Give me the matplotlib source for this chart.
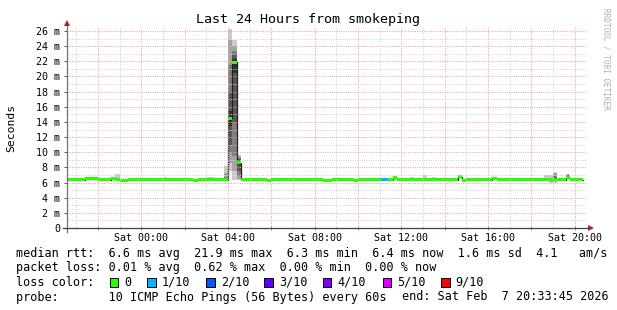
import matplotlib
matplotlib.use("Agg")
import matplotlib.pyplot as plt
from matplotlib.patches import Rectangle
from matplotlib.lines import Line2D
from matplotlib.ticker import MultipleLocator, FuncFormatter
import numpy as np

W, H, DPI = 617, 310, 100
MONO = "DejaVu Sans Mono"
plt.rcParams["font.family"] = [MONO]

# ---------------- data ----------------
view_start = 20.5625      # Fri 20:33:45 (hours since Fri 00:00)
view_end = 44.5625        # Sat 20:33:45
bin_start = 20.6          # first 12-minute consolidated bin (Fri 20:36)
bin_hours = 0.2           # 12 minutes

median_ms = [
    6.4, 6.4, 6.4, 6.4, 6.5, 6.5, 6.5, 6.4, 6.4, 6.4,
    6.5, 6.45, 6.32, 6.32, 6.4, 6.4, 6.4, 6.4, 6.4, 6.4,
    6.4, 6.4, 6.42, 6.4, 6.4, 6.4, 6.4, 6.4, 6.4, 6.3,
    6.4, 6.4, 6.35, 6.35, 6.35, 6.35, 6.35, 14.5, 21.9, 8.6,
    6.4, 6.4, 6.4, 6.4, 6.4, 6.4, 6.3, 6.4, 6.4, 6.4,
    6.4, 6.4, 6.4, 6.4, 6.4, 6.4, 6.4, 6.4, 6.4, 6.3,
    6.3, 6.4, 6.4, 6.4, 6.4, 6.4, 6.3, 6.4, 6.4, 6.4,
    6.4, 6.4, 6.45, 6.45, 6.4, 6.6, 6.4, 6.4, 6.4, 6.4,
    6.4, 6.4, 6.4, 6.4, 6.4, 6.4, 6.4, 6.4, 6.4, 6.4,
    6.75, 6.3, 6.4, 6.4, 6.4, 6.4, 6.4, 6.4, 6.55, 6.4,
    6.4, 6.4, 6.4, 6.4, 6.4, 6.4, 6.4, 6.4, 6.4, 6.4,
    6.4, 6.4, 6.4, 6.4, 6.4, 6.65, 6.4, 6.4, 6.4,
]

smoke_top = [
    6.65, 6.55, 6.55, 6.55, 6.65, 6.65, 6.65, 6.55, 6.55, 6.55,
    6.7, 7.1, 6.5, 6.5, 6.55, 6.55, 6.55, 6.55, 6.55, 6.55,
    6.55, 6.55, 6.7, 6.55, 6.55, 6.55, 6.55, 6.55, 6.55, 6.45,
    6.55, 6.55, 6.7, 6.7, 6.5, 6.5, 8.2, 26.3, 24.8, 9.6,
    6.65, 6.65, 6.65, 6.65, 6.65, 6.65, 6.45, 6.55, 6.55, 6.65,
    6.65, 6.65, 6.65, 6.55, 6.55, 6.65, 6.65, 6.65, 6.65, 6.45,
    6.45, 6.55, 6.65, 6.65, 6.65, 6.55, 6.45, 6.55, 6.55, 6.55,
    6.55, 6.55, 6.6, 6.6, 6.55, 6.75, 6.55, 6.55, 6.55, 6.75,
    6.55, 6.55, 7.0, 6.55, 6.75, 6.55, 6.55, 6.55, 6.55, 6.55,
    6.9, 6.45, 6.55, 6.55, 6.55, 6.55, 6.55, 6.55, 6.75, 6.55,
    6.65, 6.65, 6.65, 6.65, 6.65, 6.65, 6.65, 6.55, 6.55, 6.55,
    7.0, 7.0, 7.45, 6.55, 6.55, 7.15, 6.55, 6.55, 6.55,
]

smoke_bottom = [
    6.3, 6.3, 6.3, 6.3, 6.4, 6.4, 6.4, 6.3, 6.3, 6.3,
    6.4, 6.35, 6.22, 6.22, 6.3, 6.3, 6.3, 6.3, 6.3, 6.3,
    6.3, 6.3, 6.32, 6.3, 6.3, 6.3, 6.3, 6.3, 6.3, 6.2,
    6.3, 6.3, 6.25, 6.25, 6.25, 6.25, 6.2, 7.5, 6.4, 6.3,
    6.3, 6.3, 6.3, 6.3, 6.3, 6.3, 6.2, 6.3, 6.3, 6.3,
    6.3, 6.3, 6.3, 6.3, 6.3, 6.3, 6.3, 6.3, 6.3, 6.2,
    6.2, 6.3, 6.3, 6.3, 6.3, 6.3, 6.2, 6.3, 6.3, 6.3,
    6.3, 6.3, 6.35, 6.35, 6.3, 6.5, 6.3, 6.3, 6.3, 6.3,
    6.3, 6.3, 6.3, 6.3, 6.3, 6.3, 6.3, 6.3, 6.3, 6.3,
    6.65, 6.2, 6.3, 6.3, 6.3, 6.3, 6.3, 6.3, 6.45, 6.3,
    6.3, 6.3, 6.3, 6.3, 6.3, 6.3, 6.3, 6.3, 6.3, 6.3,
    6.3, 6.0, 6.0, 6.3, 6.3, 6.45, 6.3, 6.3, 6.3,
]

# inner smoke rings (ping 2..5 from each side) for the columns where they show
ring_cols = [36, 37, 38, 39, 112, 115]
ring2_lo = [6.25, 8.6, 7.5, 6.5, 6.2, 6.5]
ring2_hi = [7.2, 24.8, 24.0, 9.45, 7.2, 7.05]
ring3_lo = [6.3, 9.9, 9.5, 6.8, 6.3, 6.55]
ring3_hi = [6.7, 21.5, 23.3, 9.3, 6.9, 7.0]
ring4_lo = [6.3, 11.0, 14.0, 7.5, 6.35, 6.6]
ring4_hi = [6.5, 18.0, 22.8, 9.1, 6.7, 6.95]
ring5_lo = [6.3, 13.5, 20.5, 8.3, 6.4, 6.62]
ring5_hi = [6.45, 15.5, 22.3, 8.8, 6.5, 6.9]

loss_level = [0] * 72 + [1, 1] + [0] * 45   # index into loss colours

loss_names = ["0", "1/10", "2/10", "3/10", "4/10", "5/10", "9/10"]
loss_colors = ["#26ff00", "#00b8ff", "#0059ff", "#5e00ff", "#7e00ff", "#dd00ff", "#ff0000"]
ring_colors = ["#cacaca", "#a4a4a4", "#7e7e7e", "#585858", "#323232"]

tick_hours = [24, 28, 32, 36, 40, 44]
tick_labels = ["Sat 00:00", "Sat 04:00", "Sat 08:00", "Sat 12:00", "Sat 16:00", "Sat 20:00"]

stats_line = "median rtt:  6.6 ms avg  21.9 ms max  6.3 ms min  6.4 ms now  1.6 ms sd  4.1   am/s"
loss_line = "packet loss: 0.01 % avg  0.62 % max  0.00 % min  0.00 % now"
probe_line = "probe:       10 ICMP Echo Pings (56 Bytes) every 60s"
end_line = "end: Sat Feb  7 20:33:45 2026"

# ---------------- figure ----------------
fig = plt.figure(figsize=(W / DPI, H / DPI), dpi=DPI, facecolor="white")
L, R, T, B = 67, 587, 27, 228
ax = fig.add_axes([L / W, (H - B) / H, (R - L) / W, (B - T) / H])
ax.set_facecolor("white")
ax.set_xlim(view_start, view_end)
ax.set_ylim(0, 26.53)

n = len(median_ms)
starts = bin_start + bin_hours * np.arange(n)
med = np.array(median_ms)
top = np.array(smoke_top)
bot = np.array(smoke_bottom)

# outer smoke
ax.bar(starts, top - bot, bottom=bot, width=bin_hours, align="edge",
       color=ring_colors[0], linewidth=0, antialiased=False, zorder=1)
# inner smoke rings
rc = np.array(ring_cols)
for lo, hi, col in [(ring2_lo, ring2_hi, ring_colors[1]), (ring3_lo, ring3_hi, ring_colors[2]),
                    (ring4_lo, ring4_hi, ring_colors[3]), (ring5_lo, ring5_hi, ring_colors[4])]:
    lo = np.array(lo); hi = np.array(hi)
    ax.bar(starts[rc], hi - lo, bottom=lo, width=bin_hours, align="edge",
           color=col, linewidth=0, antialiased=False, zorder=1.1)

# median LINE1
edges = np.append(starts, starts[-1] + bin_hours)
ax.step(edges, np.append(med, med[-1]), where="post", color="#202020", lw=0.9, zorder=1.2)

# loss-coloured median bands
sw = 0.2
cols = [loss_colors[k] for k in loss_level]
ax.bar(starts, 2 * sw, bottom=med - sw, width=bin_hours, align="edge",
       color=cols, linewidth=0, antialiased=False, zorder=1.3)

# grid
for a in ("top", "right", "left", "bottom"):
    ax.spines[a].set_visible(False)
ax.xaxis.set_major_locator(MultipleLocator(2))
ax.xaxis.set_minor_locator(MultipleLocator(1))
ax.yaxis.set_major_locator(MultipleLocator(2))
ax.yaxis.set_minor_locator(MultipleLocator(1))
ax.set_axisbelow(False)
ax.grid(which="major", color="#f2a0a0", lw=0.72, ls=(0, (1, 1.3)))
ax.grid(which="minor", color="#d2d2d2", lw=0.72, ls=(0, (1, 1.3)))

lab = dict(zip(tick_hours, tick_labels))
ax.xaxis.set_major_formatter(FuncFormatter(lambda v, p: lab.get(int(round(v)), "")))
ax.xaxis.set_minor_formatter(FuncFormatter(lambda v, p: ""))
ax.yaxis.set_major_formatter(FuncFormatter(lambda v, p: "0" if v == 0 else f"{v:g} m"))
ax.tick_params(axis="x", which="major", length=2.5, width=0.72, color="#e08080",
               direction="inout", labelsize=7.2, pad=2.5)
ax.tick_params(axis="x", which="minor", length=1.5, width=0.72, color="#b0b0b0", direction="inout")
ax.tick_params(axis="y", which="major", length=2.2, width=0.72, color="#606060",
               direction="out", labelsize=7.2, pad=2.6)
ax.tick_params(axis="y", which="minor", length=0)

# axes with arrows
ax.add_line(Line2D([0, 0], [-4 / 201, 1 + 3 / 201], transform=ax.transAxes, color="#707070",
                   lw=0.9, clip_on=False, zorder=3))
ax.add_line(Line2D([-4 / 520, 1 + 1 / 520], [0, 0], transform=ax.transAxes, color="#404040",
                   lw=0.9, clip_on=False, zorder=3))
ax.plot([0], [1 + 4 / 201], marker="^", ms=4.5, color="#a02828", mew=0,
        transform=ax.transAxes, clip_on=False, zorder=4)
ax.plot([1 + 4 / 520], [0], marker=">", ms=4.5, color="#a02828", mew=0,
        transform=ax.transAxes, clip_on=False, zorder=4)

# texts
fig.text(308.5 / W, 1 - 20 / H, "Last 24 Hours from smokeping", ha="center", va="center",
         fontsize=9.6, color="black")
fig.text(11 / W, 1 - 127.5 / H, "Seconds", rotation=90, ha="center", va="center",
         fontsize=8.2, color="black")
fig.text(606 / W, 1 - 59 / H, "RRDTOOL / TOBI OETIKER", rotation=-90, ha="center",
         va="center", fontsize=5.6, color="#b0b0b0")

fs = 8.5
fig.text(16 / W, 1 - 254 / H, stats_line, ha="left", va="center", fontsize=fs)
fig.text(16 / W, 1 - 268 / H, loss_line, ha="left", va="center", fontsize=fs)
fig.text(16 / W, 1 - 282 / H, "loss color:", ha="left", va="center", fontsize=fs)
fig.text(16 / W, 1 - 297 / H, probe_line, ha="left", va="center", fontsize=fs)
fig.text(402 / W, 1 - 297 / H, end_line, ha="left", va="center", fontsize=fs)

box_x = [109.6, 147.4, 206, 264, 322.7, 382.5, 441]
for bx, name, c in zip(box_x, loss_names, loss_colors):
    fig.add_artist(Rectangle((bx / W, 1 - 286.5 / H), 8.5 / W, 8.5 / H, transform=fig.transFigure,
                             facecolor=c, edgecolor="black", lw=0.7))
    fig.text((bx + 14.7) / W, 1 - 282 / H, name, ha="left", va="center", fontsize=fs)

fig.savefig("out.png", dpi=DPI, facecolor="white")
